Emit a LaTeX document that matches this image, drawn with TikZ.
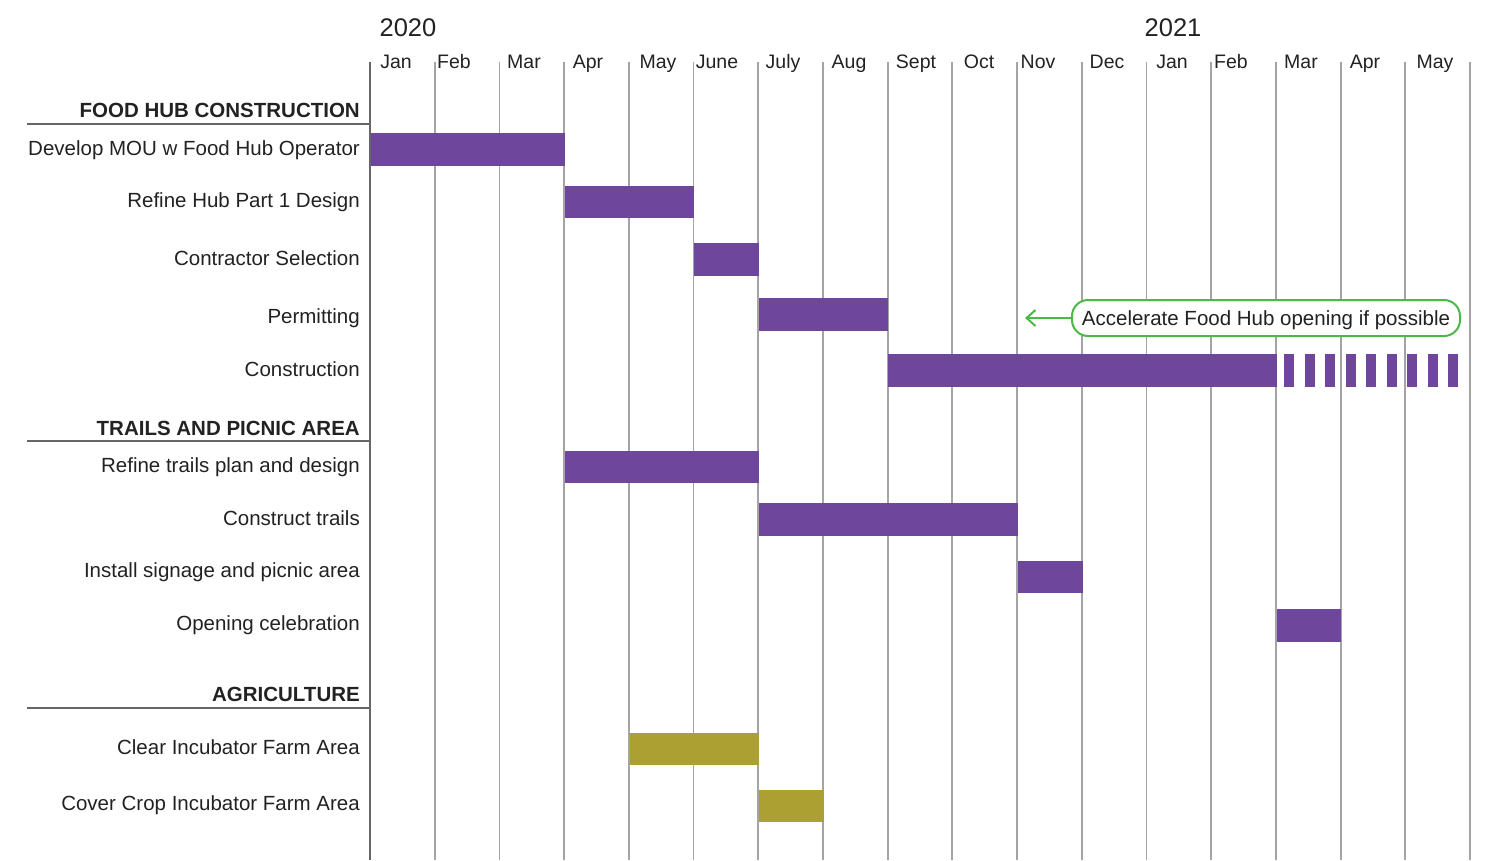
\documentclass[tikz,border=0pt]{standalone}
\usepackage{fontspec}
\setmainfont{Liberation Sans}
\usetikzlibrary{arrows.meta}
\definecolor{barP}{HTML}{6E469B}
\definecolor{barO}{HTML}{ADA032}
\definecolor{gridc}{HTML}{A4A4A4}
\definecolor{axisc}{HTML}{666666}
\definecolor{accg}{HTML}{4DB848}
\definecolor{txt}{HTML}{222222}
\tikzset{
  gridline/.style={draw=gridc, line width=1.8pt},
  axisline/.style={draw=axisc, line width=2.6pt},
  lbl/.style={anchor=base east, inner sep=0pt, text=txt, font=\fontsize{20.5}{24}\selectfont},
  sect/.style={anchor=base east, inner sep=0pt, text=txt, font=\fontsize{20.5}{24}\selectfont\bfseries},
  mon/.style={anchor=base, inner sep=0pt, text=txt, font=\fontsize{19.5}{23}\selectfont},
  yr/.style={anchor=base, inner sep=0pt, text=txt, font=\fontsize{25.5}{30}\selectfont},
  pbar/.style={fill=barP},
  obar/.style={fill=barO},
  accbox/.style={draw=accg, line width=2pt, fill=white, rounded corners=16pt, minimum width=388pt, minimum height=36pt, inner sep=0pt, text height=15pt, text depth=0pt, text=txt, font=\fontsize{20.5}{24}\selectfont},
  accarrow/.style={draw=accg, line width=2pt, -{Straight Barb[length=9pt,width=16pt]}}
}
\begin{document}
\begin{tikzpicture}[x=1pt,y=-1pt]
\useasboundingbox (0,0) rectangle (1486,860);
% grid
\foreach \i in {1,...,17} \draw[gridline] ({370+\i*64.706},62) -- ({370+\i*64.706},860);
% years
\node[yr] (y2020) at (408,36) {2020};
\node[yr] (y2021) at (1173,36) {2021};
% months
\foreach \n/\x/\t in {m1/396/Jan, m2/454/Feb, m3/524/Mar, m4/588/Apr, m5/658/May, m6/717/June, m7/783/July, m8/849/Aug, m9/916/Sept, m10/979/Oct, m11/1038/Nov, m12/1107/Dec, m13/1172/Jan, m14/1231/Feb, m15/1301/Mar, m16/1365/Apr, m17/1435/May}
  \node[mon] (\n) at (\x,68) {\t};
% bars
\fill[pbar] (370,133) rectangle (565,166);
\fill[pbar] (565,186) rectangle (694,218);
\fill[pbar] (694,243) rectangle (759,276);
\fill[pbar] (759,298) rectangle (888,331);
\fill[pbar] (888,354) rectangle (1277,387);
\foreach \k in {0,...,8} \fill[pbar] ({1284+\k*20.5},354) rectangle ({1294+\k*20.5},387);
\fill[pbar] (565,451) rectangle (759,483);
\fill[pbar] (759,503) rectangle (1018,536);
\fill[pbar] (1018,561) rectangle (1083,593);
\fill[pbar] (1277,609) rectangle (1341,642);
\fill[obar] (630,733) rectangle (759,765);
\fill[obar] (759,790) rectangle (824,822);
% axis and section rules
\draw[axisline] (370,62) -- (370,860);
\draw[axisline] (27,124) -- (370,124);
\draw[axisline] (27,441) -- (370,441);
\draw[axisline] (27,708) -- (370,708);
% section headings
\node[sect] (s1) at (360,117) {FOOD HUB CONSTRUCTION};
\node[sect] (s2) at (360,435) {TRAILS AND PICNIC AREA};
\node[sect] (s3) at (360,701) {AGRICULTURE};
% task labels
\node[lbl] (t1) at (360,155.5) {Develop MOU w Food Hub Operator};
\node[lbl] (t2) at (360,207.5) {Refine Hub Part 1 Design};
\node[lbl] (t3) at (360,265.5) {Contractor Selection};
\node[lbl] (t4) at (360,323.5) {Permitting};
\node[lbl] (t5) at (360,376.5) {Construction};
\node[lbl] (t6) at (360,472.5) {Refine trails plan and design};
\node[lbl] (t7) at (360,525.5) {Construct trails};
\node[lbl] (t8) at (360,577.5) {Install signage and picnic area};
\node[lbl] (t9) at (360,630.5) {Opening celebration};
\node[lbl] (t10) at (360,754.5) {Clear Incubator Farm Area};
\node[lbl] (t11) at (360,810.5) {Cover Crop Incubator Farm Area};
% note
\node[accbox] (acc) at (1266,318) {Accelerate Food Hub opening if possible};
\coordinate (accend) at (1025,318);
\draw[accarrow] (acc.west) -- (accend);
\end{tikzpicture}
\end{document}
